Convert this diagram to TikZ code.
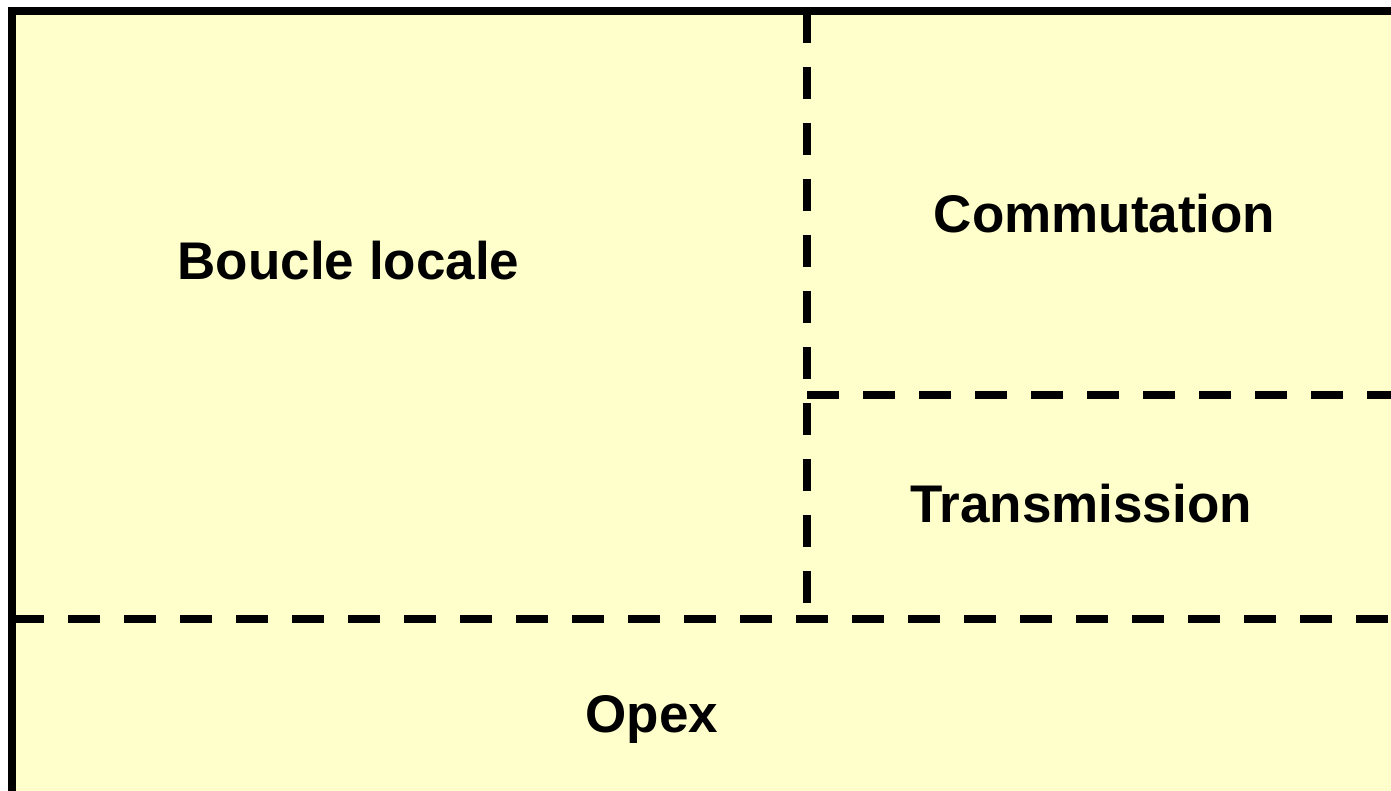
\documentclass[tikz,border=0pt]{standalone}
\usepackage{fontspec}
\setmainfont{Liberation Sans}
\definecolor{paleyellow}{RGB}{255,255,204}
\begin{document}
\begin{tikzpicture}[x=1pt,y=-1pt,
  frame/.style={line width=8pt,draw=black,fill=paleyellow},
  divider/.style={line width=8pt,draw=black,dash pattern=on 32pt off 24pt},
  label/.style={anchor=base,inner sep=0pt,font=\fontsize{53}{60}\selectfont\bfseries}]
\useasboundingbox (0,0) rectangle (1391,791);
\begin{scope}
\clip (0,0) rectangle (1391,791);
\draw[frame] (12,11) rectangle (1420,820);
\coordinate (vtop) at (807,11);
\coordinate (vbot) at (807,619);
\coordinate (hmidL) at (807,395);
\coordinate (hmidR) at (1420,395);
\coordinate (hlowL) at (12,619);
\coordinate (hlowR) at (1420,619);
\draw[divider] (vtop) -- (vbot);
\draw[divider] (hmidL) -- (hmidR);
\draw[divider] (hlowL) -- (hlowR);
\end{scope}
\node[label] (boucle) at (348.5,280) {Boucle locale};
\node[label] (comm) at (1104.5,233) {Commutation};
\node[label] (trans) at (1081,522) {Transmission};
\node[label] (opex) at (652,732) {Opex};
\end{tikzpicture}
\end{document}
